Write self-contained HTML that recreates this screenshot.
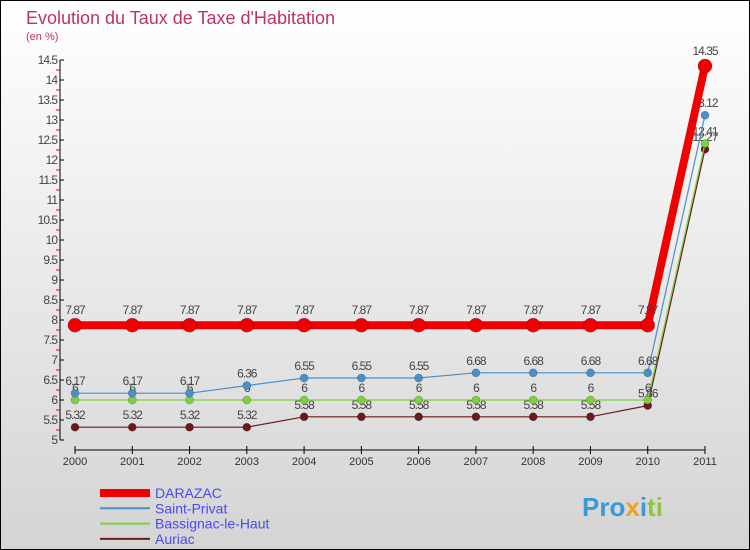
<!DOCTYPE html>
<html><head><meta charset="utf-8"><style>
body{margin:0;width:750px;height:550px;overflow:hidden;font-family:"Liberation Sans",sans-serif}
#f{position:absolute;left:0;top:0;width:748px;height:548px;border:1px solid #000;background:linear-gradient(#fff,#d4d4d4)}
</style></head><body>
<div id="f">
<svg id="s" width="750" height="550" style="position:absolute;left:-1px;top:-1px">
<text x="26" y="24" font-size="18" fill="#c0306a">Evolution du Taux de Taxe d'Habitation</text>
<text x="26" y="40" font-size="11" fill="#c0306a">(en %)</text>
<g id="ax"></g><g id="ser"></g>
<g><text x="582" y="516" font-size="26" font-weight="bold" fill="#3a9ad9">Pro<tspan fill="#f0a020">x</tspan><tspan fill="#3a9ad9">i</tspan><tspan fill="#8cc63f">ti</tspan></text></g>
</svg></div>
<script>
const years=[2000,2001,2002,2003,2004,2005,2006,2007,2008,2009,2010,2011];
const darazac=[7.87,7.87,7.87,7.87,7.87,7.87,7.87,7.87,7.87,7.87,7.87,14.35];
const saintPrivat=[6.17,6.17,6.17,6.36,6.55,6.55,6.55,6.68,6.68,6.68,6.68,13.12];
const bassignac=[6,6,6,6,6,6,6,6,6,6,6,12.41];
const auriac=[5.32,5.32,5.32,5.32,5.58,5.58,5.58,5.58,5.58,5.58,5.86,12.27];
const yTicks=[5,5.5,6,6.5,7,7.5,8,8.5,9,9.5,10,10.5,11,11.5,12,12.5,13,13.5,14,14.5];
const NS='http://www.w3.org/2000/svg';
const X=i=>75+i*(630/11), Y=v=>440-(v-5)*40;
function el(t,a,p){const e=document.createElementNS(NS,t);for(const k in a)e.setAttribute(k,a[k]);p.appendChild(e);return e;}
const ax=document.getElementById('ax'), ser=document.getElementById('ser');
let a=el('line',{x1:60,y1:60,x2:60,y2:440,stroke:'#000'},ax);


for(let v=5;v<=14.5;v+=0.25){if(Math.abs(v*2-Math.round(v*2))>0.01)el('line',{x1:56,x2:60,y1:Y(v),y2:Y(v),stroke:'#e00'},ax);}
yTicks.forEach(v=>{el('line',{x1:60,x2:64,y1:Y(v),y2:Y(v),stroke:'#000'},ax);
const t=el('text',{x:57,y:Y(v)+4,'text-anchor':'end','font-size':12,fill:'#444','letter-spacing':'-1'},ax);t.textContent=v;

});
a=el('line',{x1:75,y1:450,x2:705,y2:450,stroke:'#000'},ax);


years.forEach((y,i)=>{el('line',{x1:X(i),x2:X(i),y1:446,y2:454,stroke:'#000'},ax);
const t=el('text',{x:X(i),y:465,'text-anchor':'middle','font-size':11,fill:'#333'},ax);t.textContent=y;

});
function series(d,col,w,r,name,labDy){
const g=el('g',{},ser);


el('polyline',{points:d.map((v,i)=>X(i)+','+Y(v)).join(' '),fill:'none',stroke:col,'stroke-width':w},g);
d.forEach((v,i)=>{const c=el('circle',{cx:X(i),cy:Y(v),r:r,fill:col,stroke:'rgba(0,0,0,0.3)','stroke-width':0.6},g);


const t=el('text',{x:X(i),y:Y(v)-labDy,'text-anchor':'middle','font-size':12,fill:'#444','letter-spacing':'-1'},g);t.textContent=v;

});}
series(auriac,'#6b1a1a',1.2,4,'auriac',8);
series(bassignac,'#7ed13d',1.2,4,'bassignac',8);
series(saintPrivat,'#4a90c8',1.2,4,'saint-privat',8);
series(darazac,'#f00000',8,7,'darazac',11);
const leg=[['DARAZAC','#f00000',8],['Saint-Privat','#4a90c8',2],['Bassignac-le-Haut','#7ed13d',2],['Auriac','#6b1a1a',2]];
leg.forEach((l,i)=>{const g=el('g',{},ax);


const y=493+i*15.3;el('line',{x1:100,x2:150,y1:y,y2:y,stroke:l[1],'stroke-width':l[2]},g);
const t=el('text',{x:155,y:y+5,'font-size':14,fill:'#4a4aee'},g);t.textContent=l[0];});
</script></body></html>
